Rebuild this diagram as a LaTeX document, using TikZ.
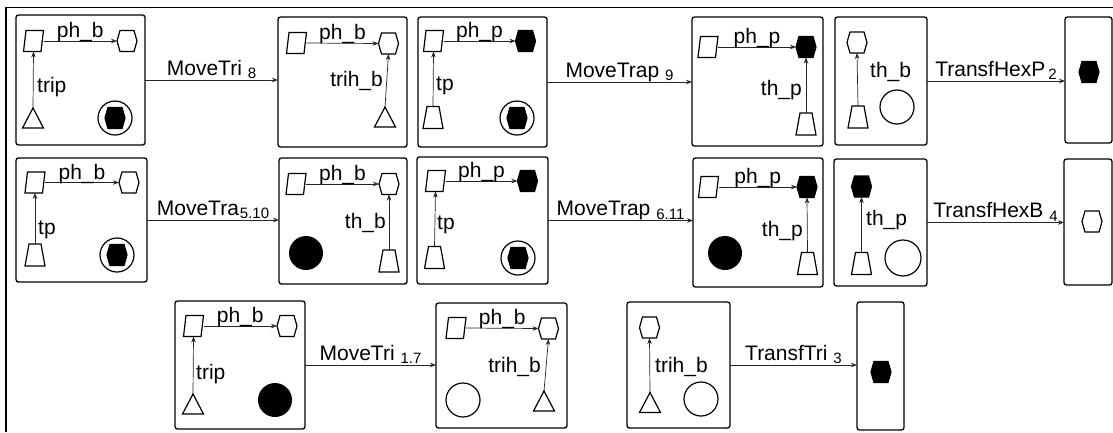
\documentclass[tikz,border=0pt]{standalone}
\usepackage{fontspec}
\setmainfont{Liberation Sans}
\usetikzlibrary{arrows.meta}
\tikzset{
 box/.style={draw=black, line width=1.3pt, rounded corners=2.5pt, inner sep=0pt, outer sep=0pt},
 sbox/.style={inner sep=0pt, outer sep=0pt, minimum width=20pt, minimum height=21pt},
 shp/.style={draw=black, line width=1.2pt, line join=miter},
 conn/.style={draw=black!85, line width=0.7pt, -{Stealth[length=6pt,width=4.5pt]}},
 tok/.style={circle, draw=black, line width=1.2pt, minimum size=34pt, inner sep=0pt, outer sep=0pt},
 dot/.style={circle, fill=black, minimum size=34pt, inner sep=0pt},
 lbl/.style={font=\fontsize{21}{25}\selectfont, inner sep=0pt},
 plbl/.style={lbl, midway, anchor=base, yshift=3.5pt},
 albl/.style={lbl, midway, anchor=base, yshift=5pt},
}
\newcommand\mksub[1]{\raisebox{-3.5pt}{\fontsize{15}{17}\selectfont #1}}
\newcommand\mkPar[3]{\node[sbox] (#1) at (#2,#3) {};
  \draw[shp] ([xshift=2.5pt]#1.north west) -- (#1.north east) -- ([xshift=-2.5pt]#1.south east) -- (#1.south west) -- cycle;}
\newcommand\mkHex[4][white]{\node[sbox] (#2) at (#3,#4) {};
  \filldraw[shp, fill=#1] ([xshift=3pt]#2.north west) -- ([xshift=-3pt]#2.north east) -- (#2.east) -- ([xshift=-3pt]#2.south east) -- ([xshift=3pt]#2.south west) -- (#2.west) -- cycle;}
\newcommand\mkTri[3]{\node[sbox, minimum width=21pt, minimum height=20pt] (#1) at (#2,#3) {};
  \draw[shp] (#1.north) -- (#1.south east) -- (#1.south west) -- cycle;}
\newcommand\mkTrap[3]{\node[sbox, minimum height=22pt] (#1) at (#2,#3) {};
  \draw[shp] ([xshift=4pt]#1.north west) -- ([xshift=-4pt]#1.north east) -- (#1.south east) -- (#1.south west) -- cycle;}
\newcommand\mkTok[3]{\node[tok] (#1) at (#2,#3) {};
  \mkHex[black]{#1h}{#2}{#3}}
\begin{document}
\begin{tikzpicture}[x=1pt, y=-1pt]
\useasboundingbox (0,0) rectangle (1113,432);
% outer frame
\draw[line width=1.3pt] (6,432) -- (6,7.5) -- (1113,7.5);

% ---------- Row 1 ----------
\node[box, minimum width=129pt, minimum height=130pt] (b1) at (80.5,80) {};
\mkPar{s1}{33.5}{41} \mkHex{h1}{127}{41} \mkTri{t1}{33}{118} \mkTok{k1}{115}{118}
\draw[conn] (s1.east) -- (h1.west) node[plbl] {ph\_b};
\draw[conn] (t1.north) -- (s1.south);
\node[lbl, anchor=west] (l1) at (37,87) {trip};

\node[box, minimum width=129pt, minimum height=130pt] (b2) at (342.5,82) {};
\mkPar{s2}{296.5}{43} \mkHex{h2}{388.5}{43.5} \mkTri{t2}{385}{117}
\draw[conn] (s2.east) -- (h2.west) node[plbl] {ph\_b};
\draw[conn] (t2.north) -- (h2.south);
\node[lbl, anchor=east] (l2) at (383,81) {trih\_b};

\node[box, minimum width=129pt, minimum height=130pt] (b3) at (482.5,82) {};
\mkPar{s3}{433.5}{41} \mkHex[black]{h3}{525.5}{41} \mkTrap{z3}{433}{117.5} \mkTok{k3}{517}{118}
\draw[conn] (s3.east) -- (h3.west) node[plbl] {ph\_p};
\draw[conn] (z3.north) -- (s3.south);
\node[lbl, anchor=west] (l3) at (436,86) {tp};

\node[box, minimum width=131pt, minimum height=129pt] (b4) at (757.5,81.5) {};
\mkPar{s4}{708}{47} \mkHex[black]{h4}{806}{47} \mkTrap{z4}{806}{124}
\draw[conn] (s4.east) -- (h4.west) node[plbl] {ph\_p};
\draw[conn] (z4.north) -- (h4.south);
\node[lbl, anchor=east] (l4) at (802,90) {th\_p};

\node[box, minimum width=92pt, minimum height=128pt] (b5) at (881,81) {};
\mkHex{h5}{857}{42.5} \mkTrap{z5}{858}{117}
\node[tok] (k5) at (897,107) {};
\draw[conn] (z5.north) -- (h5.south);
\node[lbl, anchor=west] (l5) at (870,71.5) {th\_b};

\node[box, minimum width=47pt, minimum height=126pt] (b6) at (1088.5,80) {};
\mkHex[black]{h6}{1089}{72}

\draw[conn] (b1.east) -- (b2.west |- b1.east) node[albl] {MoveTri \mksub{8}};
\draw[conn] (b3.east) -- (b4.west |- b3.east) node[albl] {MoveTrap \mksub{9}};
\draw[conn] (b5.east) -- (b6.west |- b5.east) node[albl] {TransfHexP\hspace{3pt}\mksub{2}};

% ---------- Row 2 ----------
\node[box, minimum width=131pt, minimum height=124pt] (b7) at (81.5,220) {};
\mkPar{s7}{35}{182.5} \mkHex{h7}{129}{182.5} \mkTrap{z7}{35}{255} \mkTok{k7}{117}{255}
\draw[conn] (s7.east) -- (h7.west) node[plbl] {ph\_b};
\draw[conn] (z7.north) -- (s7.south);
\node[lbl, anchor=west] (l7) at (38,230) {tp};

\node[box, minimum width=128pt, minimum height=126pt] (b8) at (343,221) {};
\mkPar{s8}{296}{184} \mkHex{h8}{389}{184} \mkTrap{z8}{389}{261}
\node[dot] (d8) at (306,253) {};
\draw[conn] (s8.east) -- (h8.west) node[plbl] {ph\_b};
\draw[conn] (z8.north) -- (h8.south);
\node[lbl, anchor=east] (l8) at (386,223) {th\_b};

\node[box, minimum width=131pt, minimum height=127pt] (b9) at (482.5,220.5) {};
\mkPar{s9}{435.5}{181} \mkHex[black]{h9}{527.5}{181} \mkTrap{z9}{434.5}{257.5} \mkTok{k9}{518}{258}
\draw[conn] (s9.east) -- (h9.west) node[plbl] {ph\_p};
\draw[conn] (z9.north) -- (s9.south);
\node[lbl, anchor=west] (l9) at (437,225) {tp};

\node[box, minimum width=130pt, minimum height=129pt] (b10) at (758,222.5) {};
\mkPar{s10}{708.5}{187} \mkHex[black]{h10}{807}{187} \mkTrap{z10}{807.5}{263.5}
\node[dot] (d10) at (725,253) {};
\draw[conn] (s10.east) -- (h10.west) node[plbl] {ph\_p};
\draw[conn] (z10.north) -- (h10.south);
\node[lbl, anchor=east] (l10) at (803,231) {th\_p};

\node[box, minimum width=93pt, minimum height=127pt] (b11) at (880.5,222.5) {};
\mkHex[black]{h11}{861.5}{186.5} \mkTrap{z11}{861.5}{263.5}
\node[tok, minimum size=36pt] (k11) at (903,258) {};
\draw[conn] (z11.north) -- (h11.south);
\node[lbl, anchor=west] (l11) at (866,220) {th\_p};

\node[box, minimum width=48pt, minimum height=126pt] (b12) at (1088,222) {};
\mkHex{h12}{1092}{221.5}

\draw[conn] (b7.east) -- (b8.west |- b7.east) node[albl] {MoveTra\hspace{1pt}\mksub{5.10}};
\draw[conn] (b9.east) -- (b10.west |- b9.east) node[albl] {MoveTrap \mksub{6.11}};
\draw[conn] (b11.east) -- (b12.west |- b11.east) node[albl] {TransfHexB \mksub{4}};

% ---------- Row 3 ----------
\node[box, minimum width=130pt, minimum height=128pt] (b13) at (240,365) {};
\mkPar{s13}{193.5}{326} \mkHex{h13}{287}{326} \mkTri{t13}{193}{404}
\node[dot] (d13) at (275,400) {};
\draw[conn] (s13.east) -- (h13.west) node[plbl] {ph\_b};
\draw[conn] (t13.north) -- (s13.south);
\node[lbl, anchor=west] (l13) at (196,374) {trip};

\node[box, minimum width=131pt, minimum height=125pt] (b14) at (501.5,365.5) {};
\mkPar{s14}{456}{328} \mkHex{h14}{548.5}{328.5} \mkTri{t14}{544}{401}
\node[tok] (k14) at (463,400) {};
\draw[conn] (s14.east) -- (h14.west) node[plbl] {ph\_b};
\draw[conn] (t14.north) -- (h14.south);
\node[lbl, anchor=east] (l14) at (541,367) {trih\_b};

\node[box, minimum width=103pt, minimum height=126pt] (b15) at (678.5,365) {};
\mkHex{h15}{649.5}{327.5} \mkTri{t15}{650}{402.5}
\node[tok] (k15) at (701,399) {};
\draw[conn] (t15.north) -- (h15.south);
\node[lbl, anchor=west] (l15) at (655,366.5) {trih\_b};

\node[box, minimum width=47pt, minimum height=128pt] (b16) at (880.5,366) {};
\mkHex[black]{h16}{881}{372}

\draw[conn] (b13.east) -- (b14.west |- b13.east) node[albl] {MoveTri \mksub{1.7}};
\draw[conn] (b15.east) -- (b16.west |- b15.east) node[albl] {TransfTri \mksub{3}};
\end{tikzpicture}
\end{document}
